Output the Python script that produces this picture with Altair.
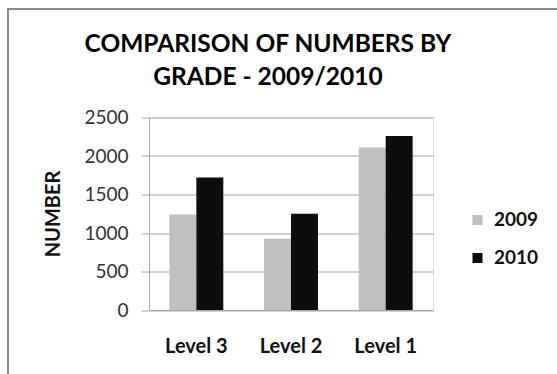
import altair as alt
import pandas as pd

# Enrolment counts by grade level for two school years
grades = ["Level 3", "Level 2", "Level 1"]
years = ["2009", "2010"]
counts_2009 = [1240, 925, 2110]
counts_2010 = [1720, 1250, 2260]
y_ticks = [0, 500, 1000, 1500, 2000, 2500]
title_lines = ["COMPARISON OF NUMBERS BY", "GRADE - 2009/2010"]

rows = []
for g, a, b in zip(grades, counts_2009, counts_2010):
    rows.append({"grade": g, "year": years[0], "count": a})
    rows.append({"grade": g, "year": years[1], "count": b})
df = pd.DataFrame(rows)

FONT = "Lato"
GRID = "#a6a6a6"

bars = alt.Chart(df).mark_bar().encode(
    x=alt.X(
        "grade:N",
        sort=grades,
        title=None,
        scale=alt.Scale(paddingInner=0.43, paddingOuter=0.215),
        axis=alt.Axis(
            labelAngle=0,
            labelFont=FONT,
            labelFontSize=20,
            labelFontWeight="bold",
            labelColor="#111111",
            labelPadding=26,
            ticks=False,
            domainColor=GRID,
            grid=False,
        ),
    ),
    xOffset=alt.XOffset("year:N", sort=years),
    y=alt.Y(
        "count:Q",
        title="NUMBER",
        scale=alt.Scale(domain=[0, 2500], nice=False),
        axis=alt.Axis(
            values=y_ticks,
            format="d",
            labelFont=FONT,
            labelFontSize=19,
            labelColor="#333333",
            labelPadding=13,
            tickSize=8,
            tickColor=GRID,
            domainColor=GRID,
            gridColor=GRID,
            titleFont=FONT,
            titleFontSize=20,
            titleFontWeight="bold",
            titleColor="#111111",
            titleX=-96,
            titleY=96,
            titleAngle=-90,
            titleAlign="center",
            titleBaseline="middle",
        ),
    ),
    color=alt.Color(
        "year:N",
        sort=years,
        scale=alt.Scale(domain=years, range=["#bfbfbf", "#0d0d0d"]),
        legend=alt.Legend(
            title=None,
            orient="none",
            legendX=319,
            legendY=93,
            symbolType="square",
            symbolSize=100,
            symbolStrokeWidth=0,
            labelFont=FONT,
            labelFontSize=19,
            labelFontWeight="bold",
            labelColor="#111111",
            labelOffset=7,
            rowPadding=18,
            padding=0,
        ),
    ),
)

one = pd.DataFrame({"k": [0]})

# Outer chart frame
frame = alt.Chart(one).mark_rect(
    fill=None, stroke="#8c8c8c", strokeWidth=2
).encode(
    x=alt.value(-141), x2=alt.value(600),
    y=alt.value(-108.5), y2=alt.value(400),
)

# Two-line chart heading
heading = [
    alt.Chart(one).mark_text(
        text=line, font=FONT, fontSize=24.5, fontWeight="bold",
        color="#000000", align="center", baseline="alphabetic",
    ).encode(x=alt.value(119), y=alt.value(yy))
    for line, yy in zip(title_lines, [-66, -33])
]

chart = alt.layer(frame, *heading, bars).properties(
    width=284,
    height=192.5,
    padding={"left": 149, "top": 117.5, "right": 124, "bottom": 64},
    autosize=alt.AutoSizeParams(type="none"),
).configure_view(stroke=None).configure(background="white")

chart.save("out.html", embed_options={"renderer": "svg", "actions": False})
